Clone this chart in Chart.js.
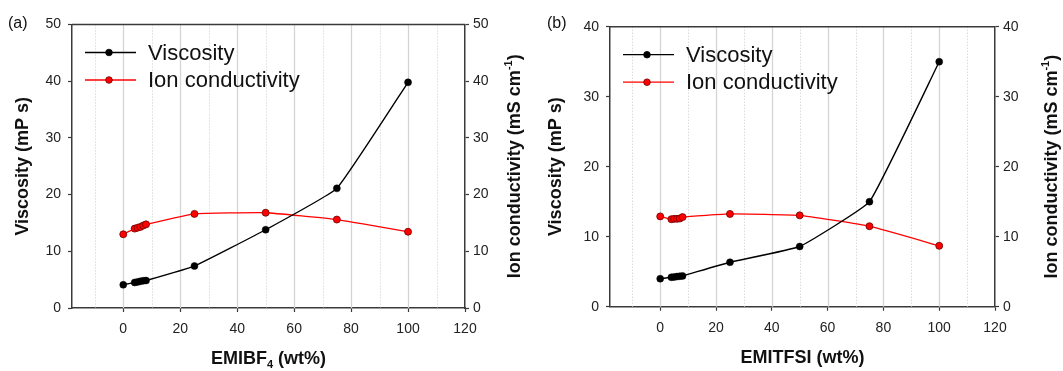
<!DOCTYPE html>
<html>
<head>
<meta charset="utf-8">
<script src="https://cdn.jsdelivr.net/npm/chart.js@4.4.1/dist/chart.umd.min.js"></script>
<style>
  body { margin: 0; background: #fff; }
  #wrap { position: relative; width: 1063px; height: 371px; overflow: hidden; }
  canvas { position: absolute; top: 0; }
</style>
</head>
<body>
<div id="wrap">
  <canvas id="chartA" width="530" height="371" style="left:0"></canvas>
  <canvas id="chartB" width="533" height="371" style="left:530px"></canvas>
</div>
<script>
// ---- data ----
const wt = [0, 4, 5, 6, 7, 8, 25, 50, 75, 100];

const viscA = [4.1, 4.5, 4.6, 4.7, 4.8, 4.85, 7.4, 13.8, 21.1, 39.8];
const condA = [13.0, 14.0, 14.15, 14.3, 14.55, 14.75, 16.6, 16.8, 15.6, 13.45];

const viscB = [4.0, 4.2, 4.25, 4.3, 4.35, 4.4, 6.35, 8.6, 15.0, 35.0];
const condB = [12.9, 12.5, 12.55, 12.55, 12.6, 12.8, 13.25, 13.05, 11.5, 8.7];

const xTicks = [-10, 0, 10, 20, 30, 40, 50, 60, 70, 80, 90, 100, 110, 120];
const xMajor = [0, 20, 40, 60, 80, 100, 120];

const FONT = "'Liberation Sans', Arial, sans-serif";
const AXIS = "#3a3a3a";

Chart.defaults.font.family = FONT;

const pts = (ys) => wt.map((x, i) => ({ x: x, y: ys[i] }));

// draws text pieces (normal / sub / sup) centred on 0,0
function drawParts(ctx, parts, size) {
  const big = "bold " + size + "px " + FONT;
  const small = "bold " + Math.round(size * 0.62) + "px " + FONT;
  let total = 0;
  parts.forEach(p => {
    ctx.font = p.k ? small : big;
    p.w = ctx.measureText(p.t).width;
    total += p.w;
  });
  let x = -total / 2;
  ctx.textAlign = "left";
  ctx.textBaseline = "middle";
  parts.forEach(p => {
    ctx.font = p.k ? small : big;
    const dy = p.k === "sub" ? size * 0.32 : p.k === "sup" ? -size * 0.36 : 0;
    ctx.fillText(p.t, x, dy);
    x += p.w;
  });
}

function makeChart(id, o) {
  const frame = {
    id: "frame",
    beforeDatasetsDraw(chart) {
      const { ctx, chartArea: a, scales } = chart;
      ctx.save();
      ctx.lineWidth = 1;
      xTicks.forEach(v => {
        const major = xMajor.includes(v);
        if (v === 120) return;
        const px = Math.round(scales.x.getPixelForValue(v)) + 0.5;
        ctx.strokeStyle = major ? "#d4d4d4" : "#cacaca";
        ctx.lineWidth = major ? 1.3 : 1;
        ctx.setLineDash(major ? [] : [1, 2]);
        ctx.beginPath();
        ctx.moveTo(px, a.top);
        ctx.lineTo(px, a.bottom);
        ctx.stroke();
      });
      ctx.restore();
    },
    afterDraw(chart) {
      const { ctx, chartArea: a } = chart;
      ctx.save();
      // top frame line
      ctx.strokeStyle = AXIS;
      ctx.lineWidth = 1.5;
      ctx.beginPath();
      ctx.moveTo(a.left, a.top);
      ctx.lineTo(a.right, a.top);
      ctx.stroke();

      ctx.fillStyle = "#111";
      // panel label
      ctx.font = "16px " + FONT;
      ctx.textAlign = "left";
      ctx.textBaseline = "middle";
      ctx.fillText(o.panel, o.panelX, 24);

      const cy = (a.top + a.bottom) / 2;
      // left title
      ctx.save();
      ctx.translate(o.leftTitleX, cy);
      ctx.rotate(-Math.PI / 2);
      drawParts(ctx, [{ t: "Viscosity (mP s)" }], 18);
      ctx.restore();
      // right title
      ctx.save();
      ctx.translate(o.rightTitleX, cy);
      ctx.rotate(-Math.PI / 2);
      drawParts(ctx, [{ t: "Ion conductivity (mS cm" }, { t: "-1", k: "sup" }, { t: ")" }], 18);
      ctx.restore();
      // x title
      ctx.save();
      ctx.translate((a.left + a.right) / 2, a.bottom + 51);
      drawParts(ctx, o.xTitle, 18);
      ctx.restore();

      // legend
      const items = [
        { label: "Viscosity", line: "#000", fill: "#000", edge: "#000" },
        { label: "Ion conductivity", line: "#ff0000", fill: "#ff0000", edge: "#6a0000" }
      ];
      items.forEach((it, i) => {
        const y = a.top + 28 + i * 27.5;
        ctx.strokeStyle = it.line;
        ctx.lineWidth = 1.3;
        ctx.beginPath();
        ctx.moveTo(a.left + 13, y);
        ctx.lineTo(a.left + 64, y);
        ctx.stroke();
        ctx.fillStyle = it.fill;
        ctx.strokeStyle = it.edge;
        ctx.lineWidth = 0.8;
        ctx.beginPath();
        ctx.arc(a.left + 37, y, 3.3, 0, Math.PI * 2);
        ctx.fill();
        ctx.stroke();
        ctx.fillStyle = "#111";
        ctx.font = "22px " + FONT;
        ctx.textAlign = "left";
        ctx.textBaseline = "middle";
        ctx.fillText(it.label, a.left + 76, y + 1);
      });
      ctx.restore();
    }
  };

  const yAxis = (pos, width, max) => ({
    type: "linear",
    position: pos,
    min: 0,
    max: max,
    ticks: { stepSize: 10, color: "#222", font: { size: 14 }, padding: pos === "left" ? 7 : 4 },
    grid: { drawOnChartArea: false, drawTicks: true, tickLength: 4, tickColor: AXIS, tickWidth: 1.2 },
    border: { color: AXIS, width: 1.5 },
    afterFit: s => { s.width = width; }
  });

  return new Chart(document.getElementById(id), {
    type: "scatter",
    data: {
      datasets: [
        {
          label: "Viscosity",
          data: pts(o.visc),
          yAxisID: "y",
          showLine: true,
          borderColor: "#000",
          borderWidth: 1.4,
          pointBackgroundColor: "#000",
          pointBorderColor: "#000",
          pointBorderWidth: 0.5,
          pointRadius: 3.5,
          tension: 0.1
        },
        {
          label: "Ion conductivity",
          data: pts(o.cond),
          yAxisID: "y1",
          showLine: true,
          borderColor: "#ff0000",
          borderWidth: 1.3,
          pointBackgroundColor: "#ff0000",
          pointBorderColor: "#6a0000",
          pointBorderWidth: 0.8,
          pointRadius: 3.5,
          tension: 0.1
        }
      ]
    },
    options: {
      responsive: false,
      animation: false,
      layout: { padding: { top: o.top, left: 0, right: 0, bottom: 0 } },
      plugins: { legend: { display: false }, tooltip: { enabled: false } },
      scales: {
        x: {
          type: "linear",
          min: -18,
          max: 120,
          afterBuildTicks: s => { s.ticks = xTicks.map(v => ({ value: v })); },
          ticks: {
            autoSkip: false,
            maxRotation: 0,
            color: "#222",
            font: { size: 14 },
            padding: 9,
            callback: v => (xMajor.includes(v) ? String(v) : "")
          },
          grid: {
            drawOnChartArea: false,
            tickColor: c => (c.tick && xMajor.includes(c.tick.value) ? AXIS : "rgba(0,0,0,0)"),
            tickLength: 4,
            tickWidth: 1.2
          },
          border: { color: AXIS, width: 1.5 },
          afterFit: s => { s.height = o.xHeight; }
        },
        y: yAxis("left", o.leftW, o.max),
        y1: yAxis("right", o.rightW, o.max)
      }
    },
    plugins: [frame]
  });
}

makeChart("chartA", {
  visc: viscA, cond: condA, max: 50,
  top: 24.5, leftW: 72, rightW: 65, xHeight: 63,
  panel: "(a)", panelX: 8, leftTitleX: 23, rightTitleX: 515,
  xTitle: [{ t: "EMIBF" }, { t: "4", k: "sub" }, { t: " (wt%)" }]
});

makeChart("chartB", {
  visc: viscB, cond: condB, max: 40,
  top: 26.7, leftW: 80, rightW: 68, xHeight: 64.3,
  panel: "(b)", panelX: 17, leftTitleX: 26, rightTitleX: 522,
  xTitle: [{ t: "EMITFSI (wt%)" }]
});
</script>
</body>
</html>
